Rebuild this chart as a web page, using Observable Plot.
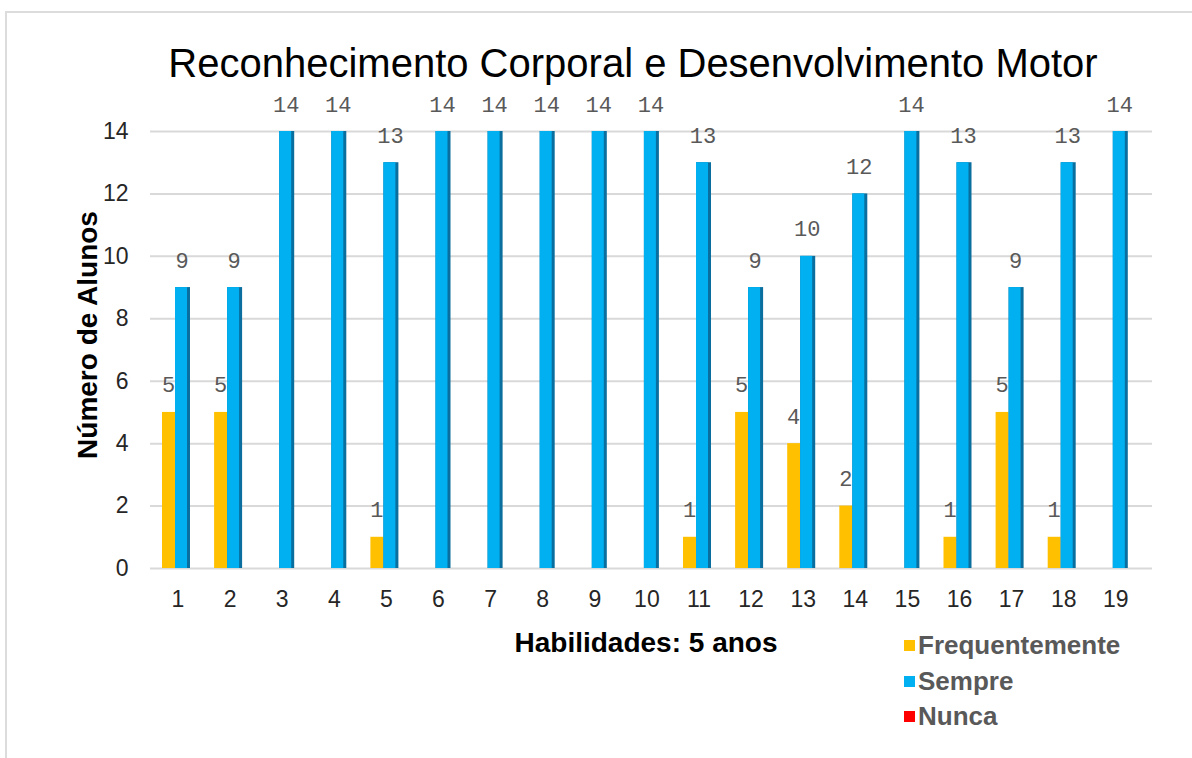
<!DOCTYPE html>
<html>
<head>
<meta charset="utf-8">
<script src="https://cdn.jsdelivr.net/npm/d3@7"></script>
<script src="https://cdn.jsdelivr.net/npm/@observablehq/plot@0.6"></script>
<style>
  html, body { margin: 0; padding: 0; background: #fff; }
  #wrap { position: relative; width: 1192px; height: 758px; overflow: hidden; font-family: "Liberation Sans", Arial, sans-serif; }
  #frame { position: absolute; left: 5px; top: 11px; width: 1200px; height: 800px; border-left: 2px solid #dcdcdc; border-top: 2px solid #dcdcdc; }
  #title { position: absolute; left: 0; width: 1266px; top: 41px; text-align: center; font-size: 40px; color: #000; white-space: nowrap; }
  #ylab { position: absolute; left: 88px; top: 335px; transform: translate(-50%, -50%) rotate(-90deg); font-size: 28px; font-weight: bold; color: #000; white-space: nowrap; }
  #xlab { position: absolute; left: 646px; top: 643px; transform: translate(-50%, -50%); font-size: 28px; font-weight: bold; color: #000; white-space: nowrap; }
  #legend { position: absolute; left: 904px; top: 628px; }
  .li { display: flex; align-items: center; height: 35.5px; font-size: 26px; font-weight: bold; color: #595959; }
  .sw { width: 11px; height: 11px; margin-right: 3px; }
  svg { position: absolute; left: 0; top: 0; }
</style>
</head>
<body>
<div id="wrap">
  <div id="frame"></div>
</div>
<script>
const categories = ["1","2","3","4","5","6","7","8","9","10","11","12","13","14","15","16","17","18","19"];
const frequentemente = [5,5,0,0,1,0,0,0,0,0,1,5,4,2,0,1,5,1,0];
const sempre = [9,9,14,14,13,14,14,14,14,14,13,9,10,12,14,13,9,13,14];
const nunca = [0,0,0,0,0,0,0,0,0,0,0,0,0,0,0,0,0,0,0];
const yTicks = [0,2,4,6,8,10,12,14];
const seriesNames = ["Frequentemente","Sempre","Nunca"];
const seriesColors = ["#FFC000","#00B0F0","#FF0000"];
const titleText = "Reconhecimento Corporal e Desenvolvimento Motor";
const yLabel = "Número de Alunos";
const xLabel = "Habilidades: 5 anos";

const freqData = categories.map((c,i) => ({cat: c, v: frequentemente[i]}));
const sempData = categories.map((c,i) => ({cat: c, v: sempre[i]}));
const nuncaData = categories.map((c,i) => ({cat: c, v: nunca[i]}));

// band: step 52.1, centre of "1" at 177.5
const bw = 52.1, half = bw / 2;
const monoFont = "'Liberation Mono', 'DejaVu Sans Mono', monospace";

const chart = Plot.plot({
  width: 1192,
  height: 758,
  marginTop: 131,
  marginBottom: 190,
  marginLeft: 150,
  marginRight: 40,
  style: {fontFamily: "'Liberation Sans', Arial, sans-serif", background: "transparent"},
  x: {type: "band", domain: categories, padding: 0, round: false, range: [177.5 - half, 177.5 - half + 19 * bw], label: null},
  y: {domain: [0, 14], label: null},
  marks: [
    Plot.ruleY(yTicks, {stroke: "#d9d9d9", strokeWidth: 2}),
    Plot.axisY({ticks: yTicks, tickSize: 0, tickPadding: 22, fontSize: 23, fill: "#262626", label: null}),
    Plot.axisX({tickSize: 0, tickPadding: 22, fontSize: 23, fill: "#262626", label: null}),
    Plot.barY(freqData, {x: "cat", y: "v", fill: seriesColors[0], insetLeft: half - 15.5, insetRight: half + 2.5}),
    Plot.barY(sempData, {x: "cat", y: "v", fill: "#0a6f9e", insetLeft: half - 2.5, insetRight: half - 12.5}),
    Plot.barY(sempData, {x: "cat", y: "v", fill: seriesColors[1], insetLeft: half - 2.5, insetRight: half - 9.5}),
    Plot.barY(nuncaData, {x: "cat", y: "v", fill: seriesColors[2], insetLeft: half + 12.5, insetRight: half - 25}),
    Plot.text(freqData.filter(d => d.v > 0), {x: "cat", y: "v", text: d => String(d.v), dx: -9.5, dy: -27, fontSize: 22, fill: "#595959", fontFamily: monoFont}),
    Plot.text(sempData.filter(d => d.v > 0), {x: "cat", y: "v", text: d => String(d.v), dx: 4, dy: -27, fontSize: 22, fill: "#595959", fontFamily: monoFont})
  ]
});
const wrap = document.getElementById("wrap");
wrap.appendChild(chart);

const t = document.createElement("div"); t.id = "title"; t.textContent = titleText; wrap.appendChild(t);
const yl = document.createElement("div"); yl.id = "ylab"; yl.textContent = yLabel; wrap.appendChild(yl);
const xl = document.createElement("div"); xl.id = "xlab"; xl.textContent = xLabel; wrap.appendChild(xl);
const lg = document.createElement("div"); lg.id = "legend";
seriesNames.forEach((n, i) => {
  const row = document.createElement("div"); row.className = "li";
  const sw = document.createElement("span"); sw.className = "sw"; sw.style.background = seriesColors[i];
  const tx = document.createElement("span"); tx.textContent = n;
  row.appendChild(sw); row.appendChild(tx); lg.appendChild(row);
});
wrap.appendChild(lg);
</script>
</body>
</html>
